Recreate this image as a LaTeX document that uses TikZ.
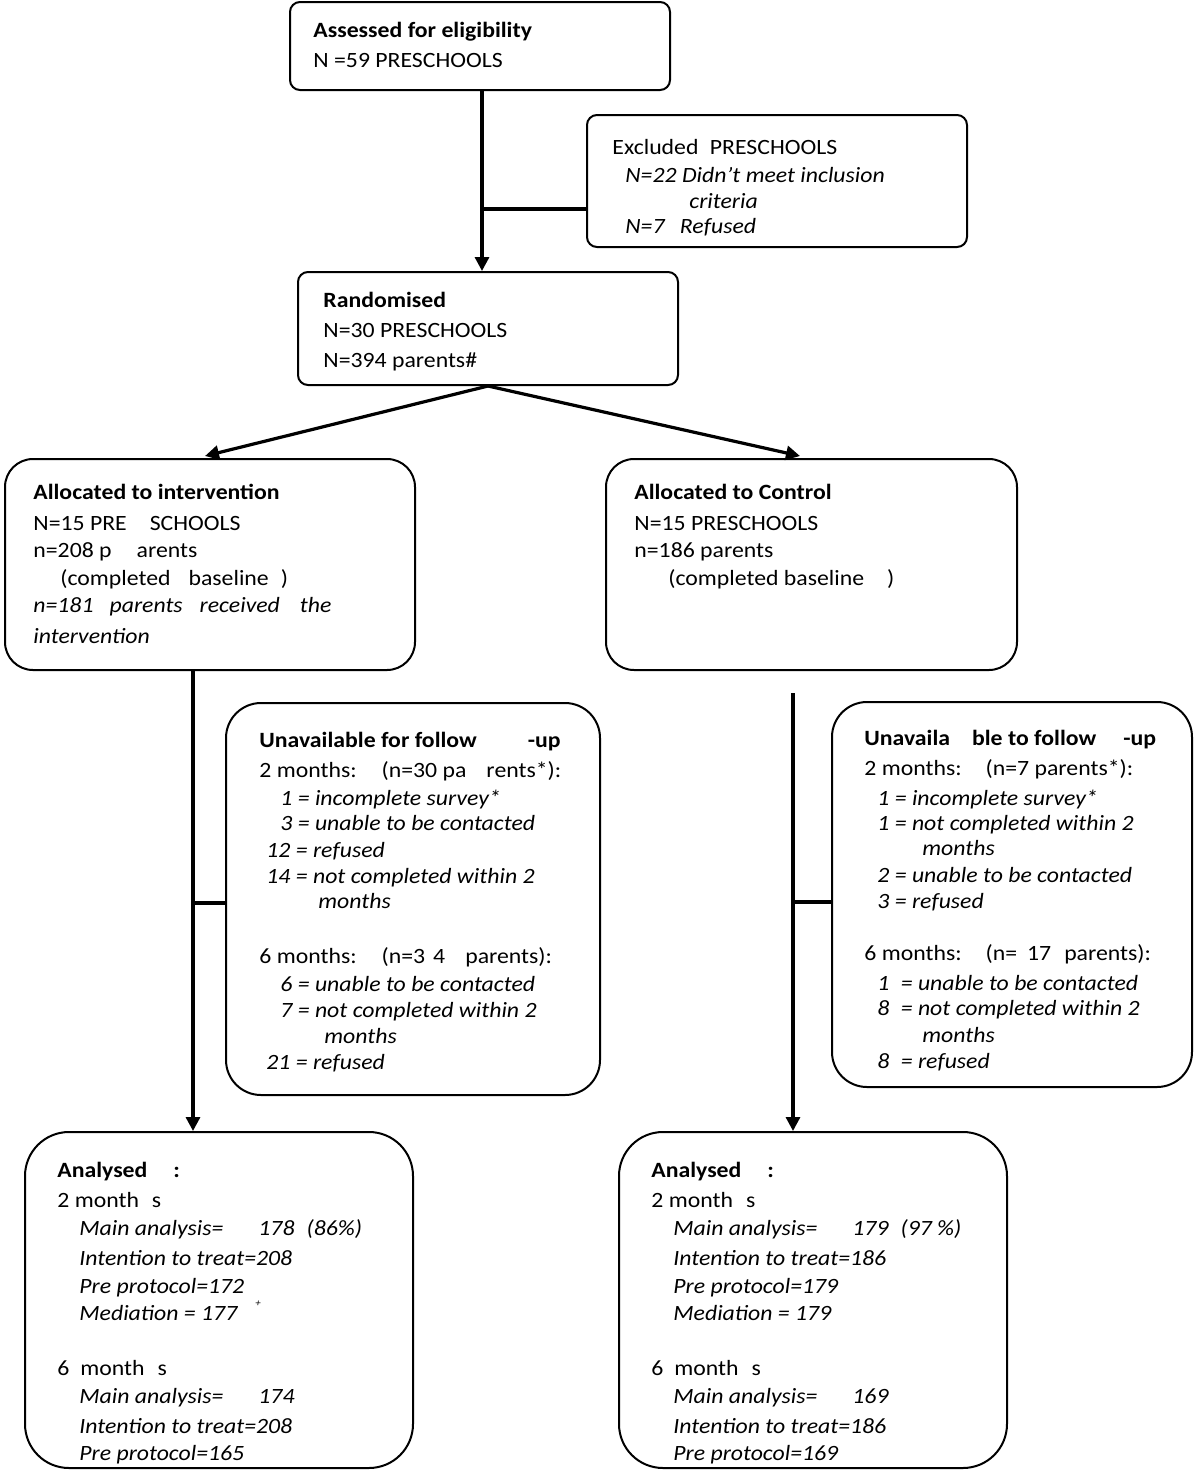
\documentclass[tikz,border=0pt]{standalone}
\usepackage{fontspec}
\setmainfont{Carlito}[FakeStretch=1.09]
\usetikzlibrary{arrows.meta}
\newcommand{\gp}[1]{\hspace*{#1pt}}
\newcommand{\tx}[4]{\node[txt] (#1) at (#2,#3) {#4};}
\begin{document}
\begin{tikzpicture}[x=0.5pt,y=-0.5pt,
  box/.style={draw, line width=1pt, inner sep=0pt},
  txt/.style={anchor=base west, inner sep=0pt, font=\fontsize{10.9}{12}\selectfont},
  conn/.style={line width=1.6pt},
  arr/.style={line width=1.6pt, -{Triangle[length=7pt,width=7pt]}}]
\useasboundingbox (0,0) rectangle (1200,1474);

% boxes
\node[box, rounded corners=5pt, minimum width=190pt, minimum height=44pt] (ass) at (480,46) {};
\node[box, rounded corners=5pt, minimum width=190pt, minimum height=66pt] (exc) at (777,181) {};
\node[box, rounded corners=5pt, minimum width=190pt, minimum height=56.5pt] (rand) at (488,328.5) {};
\node[box, rounded corners=14pt, minimum width=205pt, minimum height=105.5pt] (int) at (210,564.5) {};
\node[box, rounded corners=14pt, minimum width=205.5pt, minimum height=105.5pt] (ctrl) at (811.5,564.5) {};
\node[box, rounded corners=17.5pt, minimum width=187pt, minimum height=196pt] (unL) at (413,899) {};
\node[box, rounded corners=17.5pt, minimum width=180pt, minimum height=192.5pt] (unR) at (1012,894.5) {};
\node[box, rounded corners=22pt, minimum width=194pt, minimum height=168pt] (anL) at (219,1300) {};
\node[box, rounded corners=22pt, minimum width=194pt, minimum height=168pt] (anR) at (813,1300) {};

% connectors
\coordinate (j1) at (482,209);
\draw[arr] (ass.south -| j1) -- (rand.north -| j1);
\draw[conn] (exc.west |- j1) -- (j1);
\coordinate (tipL) at (205,456);
\coordinate (tipR) at (800,456);
\draw[arr] (rand.south) -- (tipL);
\draw[arr] (rand.south) -- (tipR);
\coordinate (vl) at (193,903);
\draw[arr] (int.south -| vl) -- (anL.north -| vl);
\draw[conn] (vl) -- (vl -| unL.west);
\coordinate (rtop) at (793,693);
\coordinate (jR) at (793,902);
\draw[arr] (rtop) -- (rtop |- anR.north);
\draw[conn] (jR) -- (jR -| unR.west);

% texts
\tx{a1}{313}{37}{\bfseries Assessed for eligibility}
\tx{a2}{313}{67}{N =59 PRESCHOOLS}

\tx{e1}{612}{154}{Excluded\gp{3} PRESCHOOLS}
\tx{e2}{625}{182}{\itshape N=22 Didn’t meet inclusion}
\tx{e3}{689}{208}{\itshape criteria}
\tx{e4}{625}{233}{\itshape N=7\gp{5} Refused}

\tx{r1}{323}{307}{\bfseries Randomised}
\tx{r2}{323}{337}{N=30 PRESCHOOLS}
\tx{r3}{323}{367}{N=394 parents\#}

\tx{i1}{33}{499}{\bfseries Allocated to intervention}
\tx{i2}{33}{530}{N=15 PRE\gp{11.5}SCHOOLS}
\tx{i3}{33}{557}{n=208 p\gp{12.5}arents}
\tx{i4}{60}{585}{(completed\gp{9}baseline\gp{6})}
\tx{i5}{33}{612}{\itshape n=181\gp{8}parents\gp{8.5}received\gp{10}the}
\tx{i6}{33}{643}{\itshape intervention}

\tx{c1}{634}{499}{\bfseries Allocated to Control}
\tx{c2}{634}{530}{N=15 PRESCHOOLS}
\tx{c3}{634}{557}{n=186 parents}
\tx{c4}{668}{585}{(completed baseline\gp{11.5})}

\tx{u1}{259}{747}{\bfseries Unavailable for follow\gp{25.5}-up}
\tx{u2}{259}{777}{2 months:\gp{12.5}(n=30 pa\gp{10}rents*):}
\tx{u3}{280}{805}{\itshape 1 = incomplete survey*}
\tx{u4}{280}{830}{\itshape 3 = unable to be contacted}
\tx{u5}{266}{857}{\itshape 12 = refused}
\tx{u6}{266}{883}{\itshape 14 = not completed within 2}
\tx{u7}{318}{908}{\itshape months}
\tx{u8}{259}{963}{6 months:\gp{12.5}(n=3\gp{4}4\gp{10}parents):}
\tx{u9}{280}{991}{\itshape 6 = unable to be contacted}
\tx{u10}{280}{1017}{\itshape 7 = not completed within 2}
\tx{u11}{324}{1043}{\itshape months}
\tx{u12}{266}{1069}{\itshape 21 = refused}

\tx{v1}{864}{745}{\bfseries Unavaila\gp{11}ble to follow\gp{13.5}-up}
\tx{v2}{864}{775}{2 months:\gp{12}(n=7 parents*):}
\tx{v3}{877}{805}{\itshape 1 = incomplete survey*}
\tx{v4}{877}{830}{\itshape 1 = not completed within 2}
\tx{v5}{922}{855}{\itshape months}
\tx{v6}{877}{882}{\itshape 2 = unable to be contacted}
\tx{v7}{877}{908}{\itshape 3 = refused}
\tx{v8}{864}{960}{6 months:\gp{12}(n=\gp{5}17\gp{6.5}parents):}
\tx{v9}{877}{990}{\itshape 1\gp{3} = unable to be contacted}
\tx{v10}{877}{1015}{\itshape 8\gp{3} = not completed within 2}
\tx{v11}{922}{1042}{\itshape months}
\tx{v12}{877}{1068}{\itshape 8\gp{3} = refused}

\tx{l1}{57}{1177}{\bfseries Analysed\gp{13}:}
\tx{l2}{57}{1207}{2 month\gp{6.5}s}
\tx{l3}{79}{1235}{\itshape Main analysis=\gp{17.5}178\gp{6}(86\%)}
\tx{l4}{79}{1265}{\itshape Intention to treat=208}
\tx{l5}{79}{1293}{\itshape Pre protocol=172}
\tx{l6}{79}{1320}{\itshape Mediation = 177\gp{9}{\fontsize{5}{6}\selectfont\raisebox{7pt}{+}}}
\tx{l7}{57}{1375}{6\gp{5.5}month\gp{6.5}s}
\tx{l8}{79}{1403}{\itshape Main analysis=\gp{17.5}174}
\tx{l9}{79}{1433}{\itshape Intention to treat=208}
\tx{l10}{79}{1460}{\itshape Pre protocol=165}

\tx{m1}{651}{1177}{\bfseries Analysed\gp{13}:}
\tx{m2}{651}{1207}{2 month\gp{6.5}s}
\tx{m3}{673}{1235}{\itshape Main analysis=\gp{17.5}179\gp{6}(97 \%)}
\tx{m4}{673}{1265}{\itshape Intention to treat=186}
\tx{m5}{673}{1293}{\itshape Pre protocol=179}
\tx{m6}{673}{1320}{\itshape Mediation = 179}
\tx{m7}{651}{1375}{6\gp{5.5}month\gp{6.5}s}
\tx{m8}{673}{1403}{\itshape Main analysis=\gp{17.5}169}
\tx{m9}{673}{1433}{\itshape Intention to treat=186}
\tx{m10}{673}{1460}{\itshape Pre protocol=169}
\end{tikzpicture}
\end{document}
